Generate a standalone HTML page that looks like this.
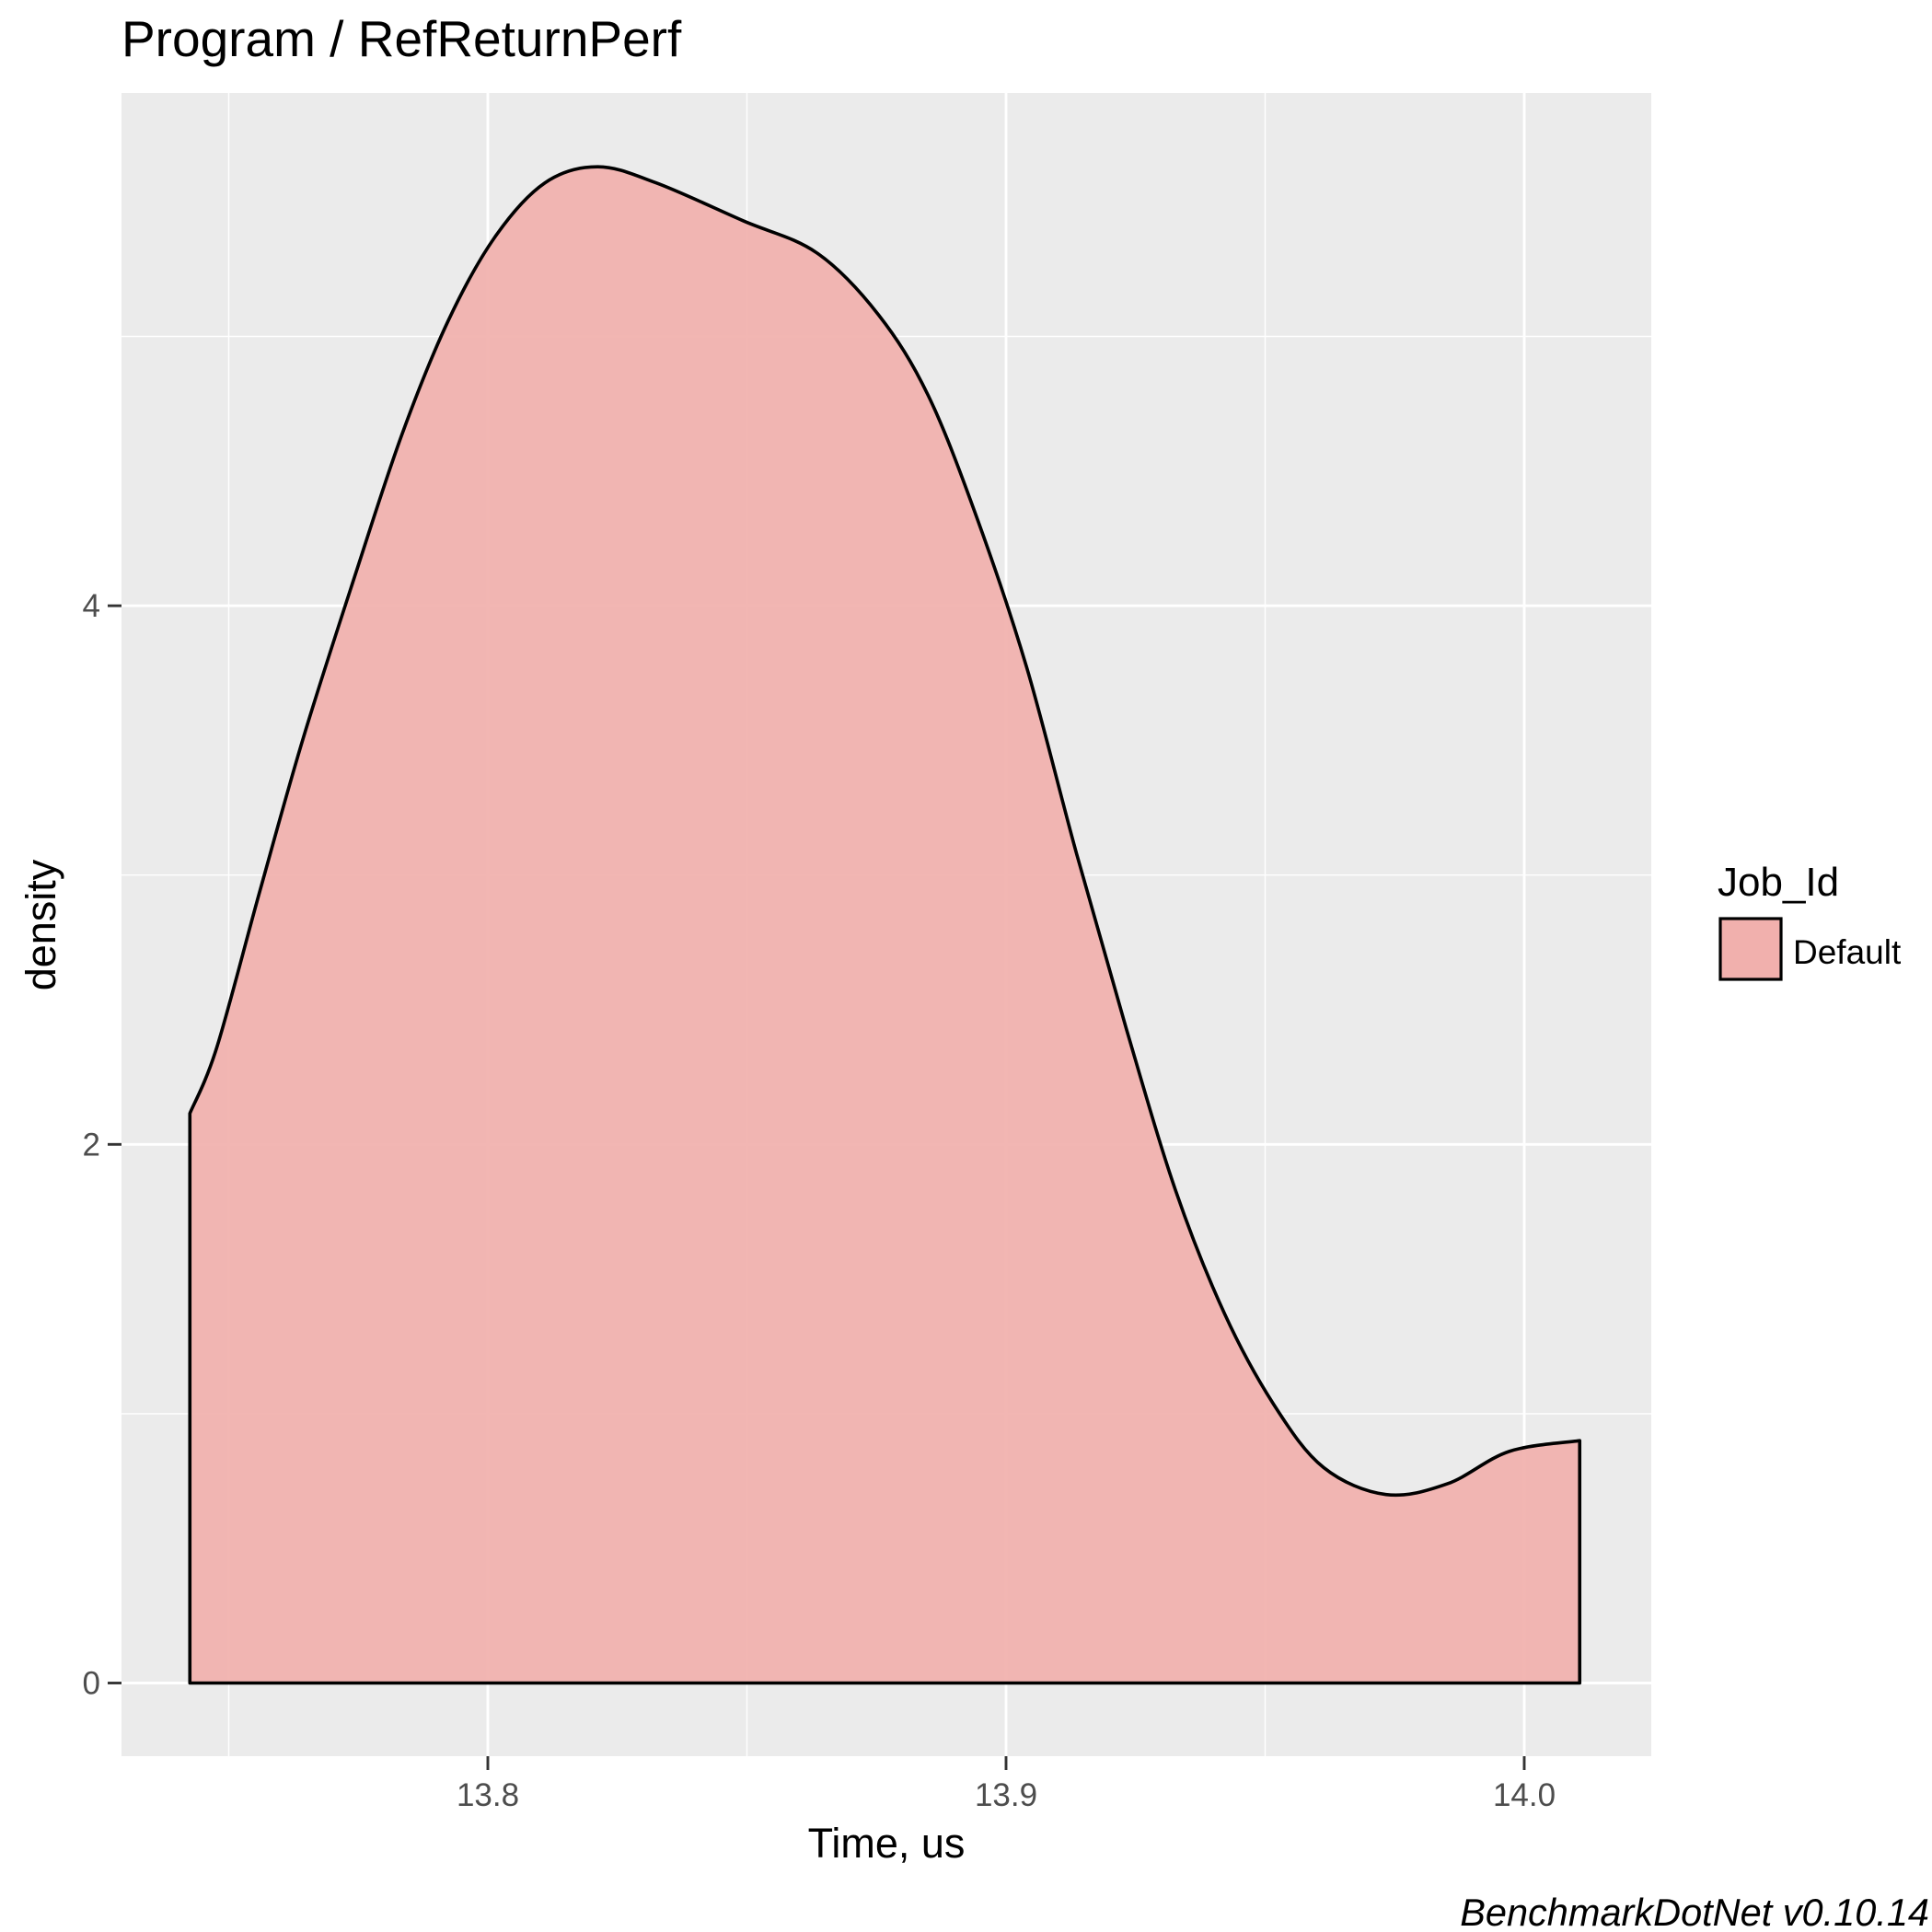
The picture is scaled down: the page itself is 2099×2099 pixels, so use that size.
<!DOCTYPE html>
<html><head><meta charset="utf-8">
<style>
html,body{margin:0;padding:0;background:#fff;}
svg{display:block;font-family:"Liberation Sans",sans-serif;}
</style></head>
<body>
<svg id="chart" width="2099" height="2099" viewBox="0 0 2099 2099" xmlns="http://www.w3.org/2000/svg">
<rect x="132" y="101" width="1662" height="1807" fill="#EBEBEB"/>
<g id="grid"></g>
<path id="area" fill="rgb(241,176,173)" fill-opacity="0.93" stroke="#000" stroke-width="3.6" stroke-linejoin="round"/>
<g id="axes"></g>
<text x="132" y="61" font-size="55" fill="#000">Program / RefReturnPerf</text>
<text x="963" y="2018" font-size="45" text-anchor="middle" fill="#000">Time, us</text>
<text x="0" y="0" font-size="45" text-anchor="middle" fill="#000" transform="translate(60,1005) rotate(-90)">density</text>
<text x="1866" y="973" font-size="44" fill="#000">Job_Id</text>
<rect x="1869" y="998" width="66" height="66" fill="rgb(241,176,173)" stroke="#000" stroke-width="3.2"/>
<text x="1948" y="1047" font-size="37" fill="#000">Default</text>
<text x="2096" y="2092" font-size="41.5" font-style="italic" text-anchor="end" fill="#000">BenchmarkDotNet v0.10.14</text>
</svg>
<script>
const times = [13.7425,13.7477,13.756,13.7644,13.7745,13.7835,13.7924,13.8014,13.811,13.8212,13.8325,13.8492,13.8635,13.8754,13.885,13.8945,13.904,13.9136,13.9232,13.9327,13.9422,13.9518,13.9613,13.9733,13.9852,13.9971,14.0107];
const densities = [2.115,2.36,2.94,3.51,4.12,4.64,5.06,5.37,5.57,5.63,5.57,5.43,5.31,5.08,4.78,4.32,3.77,3.08,2.43,1.83,1.37,1.03,0.80,0.70,0.74,0.86,0.90];
const xTicks = [13.8,13.9,14.0];
const xTickLabels = ["13.8","13.9","14.0"];
const xMinor = [13.75,13.85,13.95];
const yTicks = [0,2,4];
const yTickLabels = ["0","2","4"];
const yMinor = [1,3,5];

const NS="http://www.w3.org/2000/svg";
function sx(t){return 530+(t-13.8)*5630;}
function sy(d){return 1828.5-d*292.6;}
function mk(tag,attrs,parent){const e=document.createElementNS(NS,tag);for(const k in attrs)e.setAttribute(k,attrs[k]);parent.appendChild(e);return e;}
const grid=document.getElementById('grid');
const axes=document.getElementById('axes');
xMinor.forEach(v=>{const l=mk('line',{x1:sx(v),x2:sx(v),y1:101,y2:1908,stroke:'#fff','stroke-width':1.4},grid);

});
yMinor.forEach(v=>{const l=mk('line',{x1:132,x2:1794,y1:sy(v),y2:sy(v),stroke:'#fff','stroke-width':1.4},grid);

});
xTicks.forEach((v,i)=>{const l=mk('line',{x1:sx(v),x2:sx(v),y1:101,y2:1908,stroke:'#fff','stroke-width':2.9},grid);


const t=mk('line',{x1:sx(v),x2:sx(v),y1:1908,y2:1923,stroke:'#333','stroke-width':2.9},axes);


const tx=mk('text',{x:sx(v),y:1962,'font-size':35,'text-anchor':'middle',fill:'#4D4D4D'},axes);
tx.textContent=xTickLabels[i];

});
yTicks.forEach((v,i)=>{const l=mk('line',{x1:132,x2:1794,y1:sy(v),y2:sy(v),stroke:'#fff','stroke-width':2.9},grid);


const t=mk('line',{x1:117,x2:132,y1:sy(v),y2:sy(v),stroke:'#333','stroke-width':2.9},axes);


const tx=mk('text',{x:109,y:sy(v)+12,'font-size':35,'text-anchor':'end',fill:'#4D4D4D'},axes);
tx.textContent=yTickLabels[i];

});
const P=times.map((t,i)=>[sx(t),sy(densities[i])]);
let d=`M${P[0][0]},${sy(0)} L${P[0][0]},${P[0][1]}`;
for(let i=0;i<P.length-1;i++){
 const p0=P[Math.max(i-1,0)],p1=P[i],p2=P[i+1],p3=P[Math.min(i+2,P.length-1)];
 const c1=[p1[0]+(p2[0]-p0[0])/6,p1[1]+(p2[1]-p0[1])/6];
 const c2=[p2[0]-(p3[0]-p1[0])/6,p2[1]-(p3[1]-p1[1])/6];
 d+=` C${c1[0]},${c1[1]} ${c2[0]},${c2[1]} ${p2[0]},${p2[1]}`;
}
d+=` L${P[P.length-1][0]},${sy(0)} Z`;
document.getElementById('area').setAttribute('d',d);
</script>
</body></html>
